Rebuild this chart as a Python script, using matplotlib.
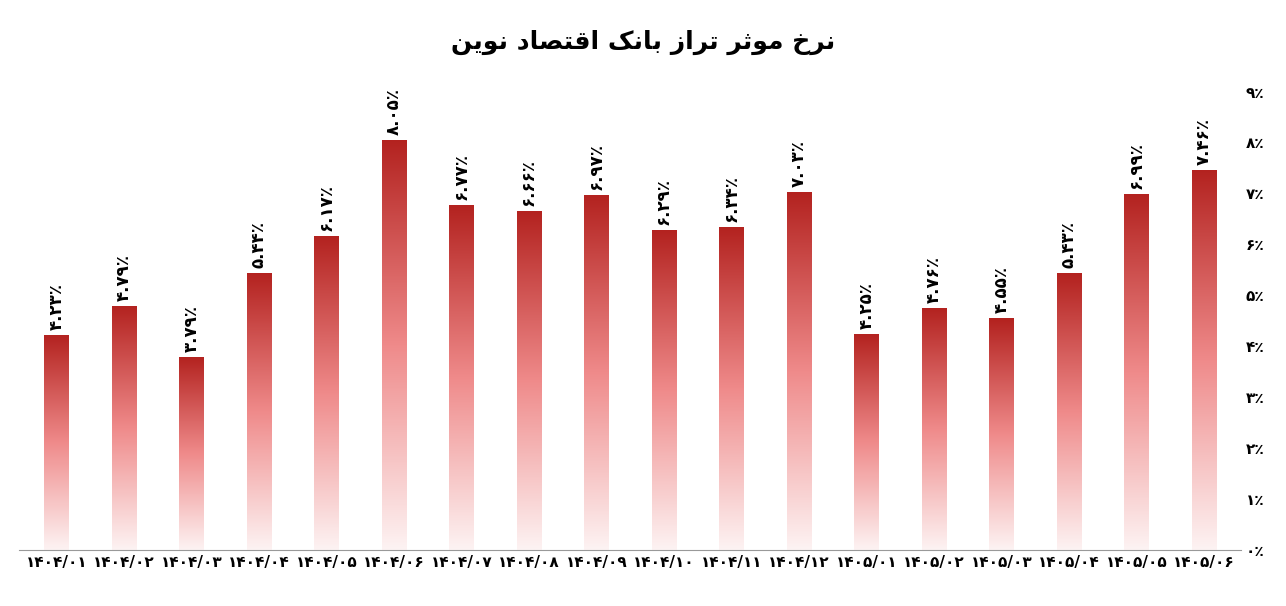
import numpy as np
import matplotlib.pyplot as plt
from matplotlib.colors import LinearSegmentedColormap

plt.rcParams['font.family'] = ['DejaVu Sans', 'Noto Sans']

months = ['1404/01', '1404/02', '1404/03', '1404/04', '1404/05', '1404/06',
          '1404/07', '1404/08', '1404/09', '1404/10', '1404/11', '1404/12',
          '1405/01', '1405/02', '1405/03', '1405/04', '1405/05', '1405/06']
rates = [4.23, 4.79, 3.79, 5.44, 6.17, 8.05, 6.77, 6.66, 6.97, 6.29, 6.34, 7.03,
         4.25, 4.76, 4.55, 5.43, 6.99, 7.46]

FA = str.maketrans('0123456789', '۰۱۲۳۴۵۶۷۸۹')


def fa(s):
    return s.translate(FA)


# title in Arabic presentation forms (logical order), reversed for display
words = [
    '\uFEE7\uFEAE\uFEA5',                          # نرخ
    '\uFEE3\uFEEE\uFE9B\uFEAE',                    # موثر
    '\uFE97\uFEAE\uFE8D\uFEAF',                    # تراز
    '\uFE91\uFE8E\uFEE7\uFB8F',                    # بانک
    '\uFE8D\uFED7\uFE98\uFEBC\uFE8E\uFEA9',        # اقتصاد
    '\uFEE7\uFEEE\uFEF3\uFEE6',                    # نوین
]
title = ' '.join(words)[::-1]

fig = plt.figure(figsize=(12.86, 6.06), dpi=100)
ax = fig.add_axes([0.015, 0.092, 0.95, 0.757])

cmap = LinearSegmentedColormap.from_list('g', ['#fdf3f3', '#ef8a8a', '#b3221f'])
grad = np.linspace(0, 1, 256).reshape(-1, 1)
x = np.arange(len(rates))
bars = ax.bar(x, rates, width=0.36, color='none', edgecolor='none')
for b, v in zip(bars, rates):
    im = ax.imshow(grad, cmap=cmap, origin='lower', aspect='auto',
                   extent=[b.get_x(), b.get_x() + b.get_width(), 0, v], zorder=2)
    im.set_clip_path(b)
    ax.text(b.get_x() + b.get_width() / 2, v + 0.1, fa(f'{v:.2f}') + '٪',
            rotation=90, ha='center', va='bottom', fontsize=12, fontweight='bold')

ax.set_xlim(-0.55, len(rates) - 0.45)
ax.set_ylim(0, 9)
ax.set_xticks(x)
ax.set_xticklabels([fa(m) for m in months], fontsize=11, fontweight='bold')
ax.yaxis.tick_right()
ax.set_yticks(range(10))
ax.set_yticklabels([fa(str(i)) + '٪' for i in range(10)], fontsize=11, fontweight='bold')
ax.tick_params(length=0)
for s in ['top', 'left', 'right']:
    ax.spines[s].set_visible(False)
ax.spines['bottom'].set_color('#999999')

fig.text(0.5, 0.93, title, ha='center', va='center', fontsize=18, fontweight='bold')

fig.savefig('out.png', dpi=100)
